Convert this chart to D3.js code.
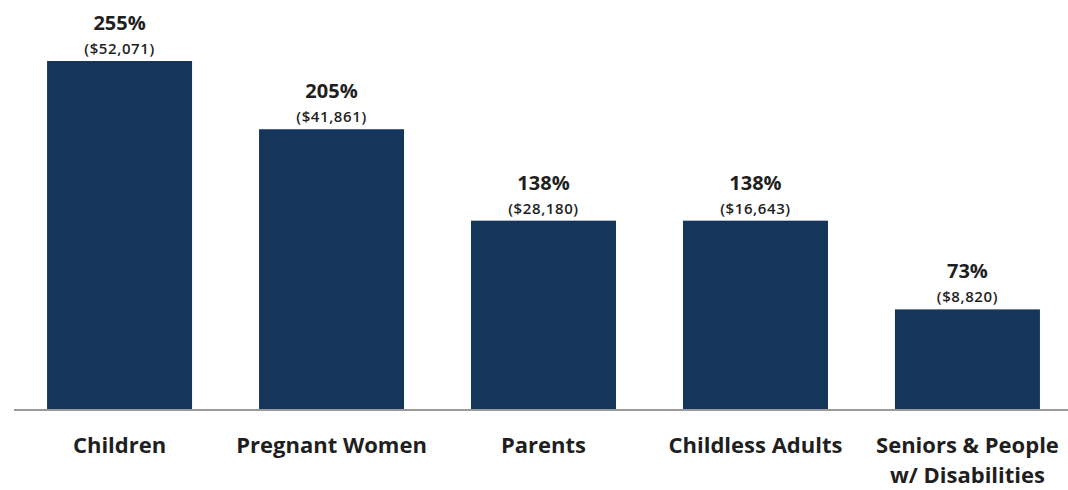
<!DOCTYPE html>
<html>
<head>
<meta charset="utf-8">
<script src="https://d3js.org/d3.v7.min.js"></script>
<style>
  body { margin: 0; background: #fff; }
  text { font-family: "Open Sans", sans-serif; font-weight: bold; fill: #1f1f1f; }
</style>
</head>
<body>
<div id="chart"></div>
<script>
var categories = ["Children", "Pregnant Women", "Parents", "Childless Adults", "Seniors & People|w/ Disabilities"];
var percents = [255, 205, 138, 138, 73];
var incomes = ["($52,071)", "($41,861)", "($28,180)", "($16,643)", "($8,820)"];

var width = 1068, height = 490;
var baseY = 409;

var svg = d3.select("#chart").append("svg")
  .attr("width", width)
  .attr("height", height);

var x = d3.scaleBand()
  .domain(categories)
  .range([14, 1073])
  .paddingInner(0.316)
  .paddingOuter(0.156);

var y = d3.scaleLinear()
  .domain([0, 255])
  .range([baseY, 61]);

var data = categories.map(function(c, i) {
  return { cat: c, pct: percents[i], inc: incomes[i] };
});

svg.selectAll("rect.bar")
  .data(data)
  .enter()
  .append("rect")
  .attr("class", "bar")
  .attr("x", function(d) { return x(d.cat); })
  .attr("width", x.bandwidth())
  .attr("y", function(d) { return y(d.pct); })
  .attr("height", function(d) { return baseY - y(d.pct); })
  .attr("fill", "#15355a");

// baseline
svg.append("line")
  .attr("x1", 14).attr("x2", width)
  .attr("y1", baseY + 1).attr("y2", baseY + 1)
  .attr("stroke", "#9a9a9a")
  .attr("stroke-width", 2);

svg.selectAll("text.pct")
  .data(data)
  .enter()
  .append("text")
  .attr("class", "pct")
  .attr("x", function(d) { return x(d.cat) + x.bandwidth() / 2; })
  .attr("y", function(d) { return y(d.pct) - 31; })
  .attr("text-anchor", "middle")
  .style("font-size", "20px")
  .text(function(d) { return d.pct + "%"; });

svg.selectAll("text.inc")
  .data(data)
  .enter()
  .append("text")
  .attr("class", "inc")
  .attr("x", function(d) { return x(d.cat) + x.bandwidth() / 2; })
  .attr("y", function(d) { return y(d.pct) - 7; })
  .attr("text-anchor", "middle")
  .style("font-size", "15px")
  .style("font-weight", "600")
  .style("letter-spacing", "0.6px")
  .text(function(d) { return d.inc; });

var labels = svg.selectAll("text.cat")
  .data(data)
  .enter()
  .append("text")
  .attr("class", "cat")
  .attr("x", function(d) { return x(d.cat) + x.bandwidth() / 2; })
  .attr("y", 453)
  .attr("text-anchor", "middle")
  .style("font-size", "22px");

labels.selectAll("tspan")
  .data(function(d) { return d.cat.split("|"); })
  .enter()
  .append("tspan")
  .attr("x", function() { return d3.select(this.parentNode).attr("x"); })
  .attr("dy", function(d, i) { return i === 0 ? 0 : 30; })
  .text(function(d) { return d; });
</script>
</body>
</html>
